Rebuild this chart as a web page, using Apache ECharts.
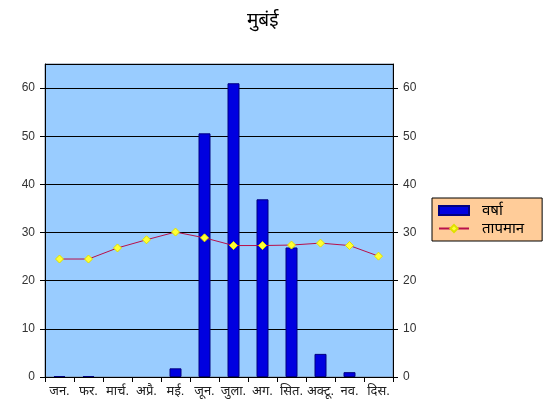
<!DOCTYPE html>
<html><head><meta charset="utf-8">
<script src="https://cdn.jsdelivr.net/npm/echarts@6/dist/echarts.min.js"></script>
<style>html,body{margin:0;padding:0;background:#fff}#c{width:554px;height:411px}</style>
</head><body><div id="c"></div>
<script>
const title = 'मुबंई';
const months = ['जन.','फर.','मार्च.','अप्रै.','मई.','जून.','जुला.','अग.','सित.','अक्टू.','नव.','दिस.'];
const rainfall = [0.2, 0.2, 0, 0, 1.8, 50.6, 61.0, 36.9, 26.9, 4.8, 1.0, 0];
const temperature = [24.5, 24.5, 26.8, 28.5, 30.1, 28.9, 27.3, 27.3, 27.4, 27.8, 27.3, 25.1];
const yTicks = [0, 10, 20, 30, 40, 50, 60];
const rainName = 'वर्षा';
const tempName = 'तापमान';

const font = '"Liberation Sans", Arial, "Noto Sans Devanagari", "Noto Sans", sans-serif';
const chart = echarts.init(document.getElementById('c'), null, {renderer: 'canvas'});
const yAxisCommon = {
  type: 'value', min: 0, max: 65, interval: 10,
  axisLine: {show: true, lineStyle: {color: '#000', width: 1}},
  axisTick: {show: true, inside: false, length: 5, lineStyle: {color: '#000'}},
  axisLabel: {color: '#333', fontSize: 12, fontFamily: font, showMaxLabel: false, margin: 10,
    formatter: v => yTicks.includes(v) ? String(v) : ''},
  splitLine: {show: false}
};
chart.setOption({
  animation: false,
  backgroundColor: '#fff',
  title: {text: title, left: 242, top: 6, textStyle: {fontSize: 19, fontWeight: 'normal', color: '#000', fontFamily: font}},
  grid: {left: 45, right: 161, top: 64, bottom: 34, show: true, backgroundColor: '#99CCFF', borderColor: '#7a8aa0', borderWidth: 1},
  legend: {
    orient: 'vertical', left: 432, top: 198, padding: [5, 18, 5, 6], itemGap: 3,
    backgroundColor: '#FFCC99', borderColor: '#000', borderWidth: 1, borderRadius: 0,
    itemWidth: 30, itemHeight: 9,
    textStyle: {fontSize: 15, color: '#000', fontFamily: font, padding: [0, 0, 0, 8]},
    data: [{name: rainName, icon: 'rect'}, {name: tempName}]
  },
  xAxis: {
    type: 'category', data: months, boundaryGap: true,
    axisLine: {lineStyle: {color: '#000'}},
    axisTick: {show: true, alignWithLabel: false, length: 5, lineStyle: {color: '#000'}},
    axisLabel: {color: '#222', fontSize: 13, fontFamily: font, interval: 0, margin: 8}
  },
  yAxis: [
    Object.assign({}, yAxisCommon, {position: 'left', splitLine: {show: true, lineStyle: {color: '#000', width: 1}}}),
    Object.assign({}, yAxisCommon, {position: 'right'})
  ],
  series: [
    {name: rainName, type: 'bar', yAxisIndex: 0, barWidth: 12,
     data: rainfall.map(v => v === 0 ? {value: v, itemStyle: {borderWidth: 0}} : v),
     itemStyle: {color: '#0000E0', borderColor: '#000080', borderWidth: 1}},
    {name: tempName, type: 'line', data: temperature, yAxisIndex: 0, symbol: 'diamond', symbolSize: 8,
     lineStyle: {color: '#B8104A', width: 1},
     itemStyle: {color: '#FFFF33', borderColor: '#E0E000', borderWidth: 1}}
  ]
});
</script></body></html>
